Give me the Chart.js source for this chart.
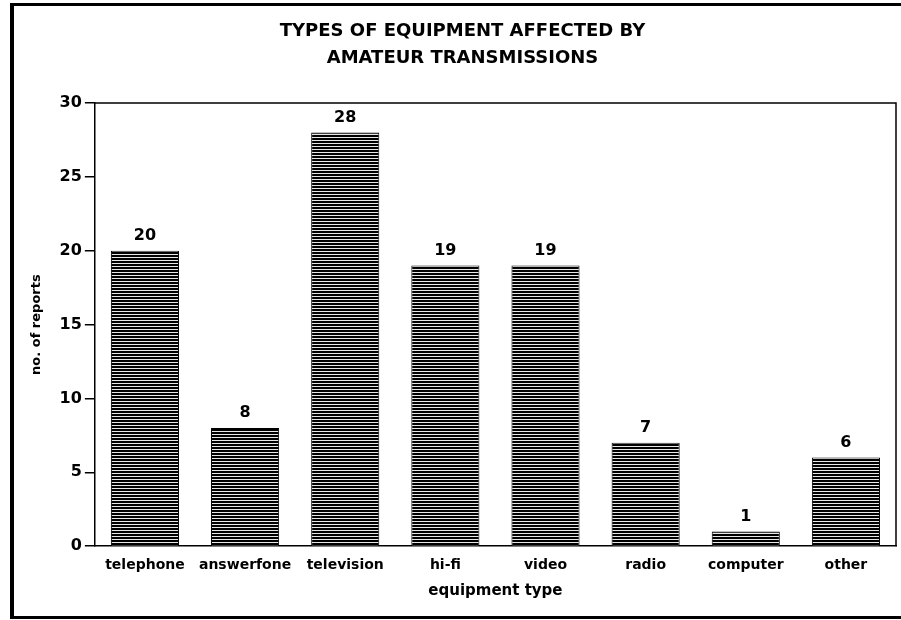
<!DOCTYPE html>
<html>
<head>
<meta charset="utf-8">
<title>Types of equipment affected by amateur transmissions</title>
<script src="https://cdn.jsdelivr.net/npm/chart.js@4/dist/chart.umd.min.js"></script>
<style>
    html, body { margin: 0; padding: 0; background: #fff; }
    #wrap { width: 901px; height: 620px; }
</style>
</head>
<body>
<div id="wrap"><canvas id="equipChart" width="901" height="620"></canvas></div>
<script>
// Reports of interference by equipment type
const equipmentTypes = ["telephone", "answerfone", "television", "hi-fi", "video", "radio", "computer", "other"];
const reportCounts = [20, 8, 28, 19, 19, 7, 1, 6];
const yTicks = [0, 5, 10, 15, 20, 25, 30];

const FONT = "'DejaVu Sans', Verdana, sans-serif";

// Horizontal line shading for the bars
const makeStripes = () => {
    const c = document.createElement("canvas");
    c.width = 8;
    c.height = 3;
    const g = c.getContext("2d");
    g.fillStyle = "#000";
    g.fillRect(0, 0, 8, 3);
    g.fillStyle = "#e8e8e8";
    g.fillRect(0, 2, 8, 1);
    return g.createPattern(c, "repeat");
};

// Outer frame and the box round the plot
const framePlugin = {
    id: "frame",
    beforeDraw(chart) {
        const ctx = chart.ctx;
        ctx.save();
        ctx.fillStyle = "#fff";
        ctx.fillRect(0, 0, chart.width, chart.height);
        ctx.fillStyle = "#000";
        ctx.fillRect(10, 3, 4, 616);   // left
        ctx.fillRect(10, 3, 891, 3);   // top
        ctx.fillRect(10, 616, 891, 3); // bottom
        ctx.restore();
    },
    afterDraw(chart) {
        const { left, right, top, bottom } = chart.chartArea;
        const ctx = chart.ctx;
        ctx.save();
        ctx.strokeStyle = "#000";
        ctx.lineWidth = 1.5;
        ctx.beginPath();
        ctx.moveTo(left, top);
        ctx.lineTo(right, top);
        ctx.lineTo(right, bottom);
        ctx.stroke();
        ctx.restore();
    }
};

// Count printed above each bar
const valueLabels = {
    id: "valueLabels",
    afterDatasetsDraw(chart) {
        const ctx = chart.ctx;
        const meta = chart.getDatasetMeta(0);
        ctx.save();
        ctx.fillStyle = "#000";
        ctx.font = "bold 16px " + FONT;
        ctx.textAlign = "center";
        ctx.textBaseline = "bottom";
        meta.data.forEach((bar, i) => {
            ctx.fillText(String(reportCounts[i]), bar.x, bar.y - 7);
        });
        ctx.restore();
    }
};

new Chart(document.getElementById("equipChart"), {
    type: "bar",
    data: {
        labels: equipmentTypes,
        datasets: [{
            data: reportCounts,
            backgroundColor: makeStripes(),
            borderColor: "#000",
            borderWidth: 1,
            barPercentage: 0.68,
            categoryPercentage: 1
        }]
    },
    options: {
        responsive: false,
        animation: false,
        layout: { padding: { left: 29, right: 5, top: 0, bottom: 20 } },
        plugins: {
            legend: { display: false },
            tooltip: { enabled: false },
            title: {
                display: true,
                text: ["TYPES OF EQUIPMENT AFFECTED BY", "AMATEUR TRANSMISSIONS"],
                color: "#000",
                font: { family: FONT, size: 18, weight: "bold", lineHeight: 1.5 },
                padding: { top: 18, bottom: 31 }
            }
        },
        scales: {
            x: {
                grid: { display: false },
                border: { display: true, color: "#000", width: 1.5 },
                ticks: {
                    color: "#000",
                    padding: 3,
                    maxRotation: 0,
                    font: { family: FONT, size: 14, weight: "bold" }
                },
                title: {
                    display: true,
                    text: "equipment type",
                    color: "#000",
                    padding: { top: 5, bottom: 0 },
                    font: { family: FONT, size: 15, weight: "bold" }
                }
            },
            y: {
                min: 0,
                max: 30,
                afterBuildTicks(axis) {
                    axis.ticks = yTicks.map(v => ({ value: v }));
                },
                grid: {
                    drawOnChartArea: false,
                    drawTicks: true,
                    tickLength: 10,
                    color: "#000",
                    lineWidth: 1.5
                },
                border: { display: true, color: "#000", width: 1.5 },
                ticks: {
                    color: "#000",
                    padding: 3,
                    font: { family: FONT, size: 16, weight: "bold" }
                },
                title: {
                    display: true,
                    text: "no. of reports",
                    color: "#000",
                    padding: { top: 0, bottom: 12 },
                    font: { family: FONT, size: 13, weight: "bold" }
                }
            }
        }
    },
    plugins: [framePlugin, valueLabels]
});
</script>
</body>
</html>
